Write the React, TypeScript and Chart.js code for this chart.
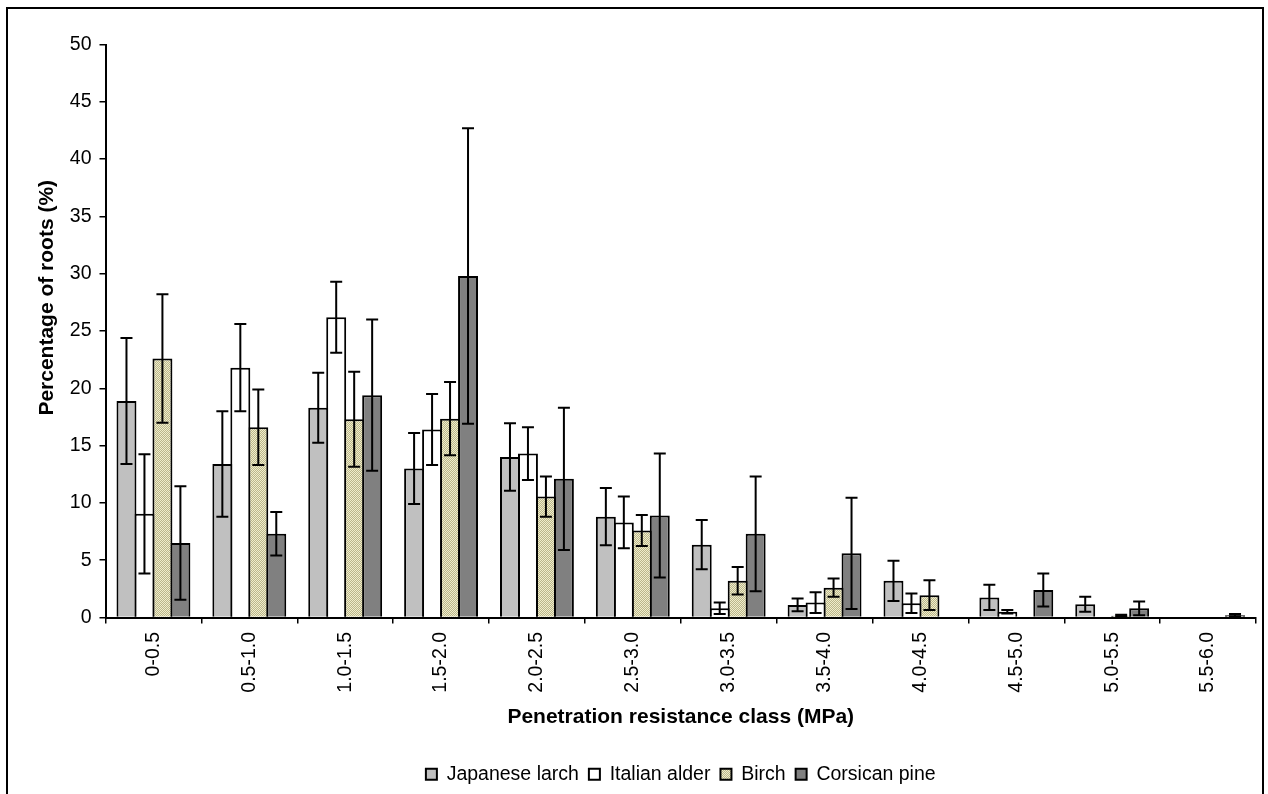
import React, { useEffect, useRef } from 'react';
import { Chart, registerables } from 'chart.js';

Chart.register(...registerables);

const categories = ['0-0.5', '0.5-1.0', '1.0-1.5', '1.5-2.0', '2.0-2.5', '2.5-3.0', '3.0-3.5', '3.5-4.0', '4.0-4.5', '4.5-5.0', '5.0-5.5', '5.5-6.0'];
const seriesNames = ['Japanese larch', 'Italian alder', 'Birch', 'Corsican pine'];

const larch = [18.9, 13.4, 18.3, 13.0, 14.0, 8.8, 6.35, 1.1, 3.2, 1.75, 1.15, 0];
const larchErr = [5.5, 4.6, 3.05, 3.1, 2.95, 2.5, 2.15, 0.55, 1.75, 1.1, 0.65, 0];
const alder = [9.05, 21.8, 26.2, 16.4, 14.3, 8.3, 0.8, 1.3, 1.25, 0.5, 0, 0];
const alderErr = [5.2, 3.8, 3.1, 3.1, 2.3, 2.25, 0.5, 0.9, 0.85, 0.15, 0, 0];
const birch = [22.6, 16.6, 17.3, 17.35, 10.55, 7.6, 3.2, 2.6, 1.95, 0, 0.15, 0];
const birchErr = [5.6, 3.3, 4.15, 3.2, 1.75, 1.35, 1.2, 0.8, 1.3, 0, 0.08, 0];
const pine = [6.5, 7.3, 19.4, 29.8, 12.1, 8.9, 7.3, 5.6, 0, 2.4, 0.8, 0.2];
const pineErr = [4.95, 1.9, 6.6, 12.9, 6.2, 5.4, 5.0, 4.85, 0, 1.45, 0.6, 0.1];

const yMin = 0;
const yMax = 50;
const yStep = 5;

const xTitle = 'Penetration resistance class (MPa)';
const yTitle = 'Percentage of roots (%)';

const FONT = '"Liberation Sans", Arial, sans-serif';

function makeBirchPattern(): CanvasPattern | string {
  const c = document.createElement('canvas');
  c.width = 2;
  c.height = 2;
  const g = c.getContext('2d');
  if (!g) return '#D6D2AA';
  g.fillStyle = '#F0EDCB';
  g.fillRect(0, 0, 2, 2);
  g.fillStyle = '#BAB68B';
  g.fillRect(0, 0, 1, 1);
  g.fillRect(1, 1, 1, 1);
  const p = g.createPattern(c, 'repeat');
  return p || '#D6D2AA';
}

const errorBarPlugin = {
  id: 'errorBars',
  afterDatasetsDraw(chart: any) {
    const ctx = chart.ctx;
    const yScale = chart.scales.y;
    ctx.save();
    ctx.strokeStyle = '#000';
    ctx.lineWidth = 2;
    chart.data.datasets.forEach((ds: any, di: number) => {
      const meta = chart.getDatasetMeta(di);
      meta.data.forEach((bar: any, i: number) => {
        const v = ds.data[i];
        const e = ds.errors[i];
        if (!e) return;
        const top = yScale.getPixelForValue(v + e);
        const bot = yScale.getPixelForValue(Math.max(v - e, 0));
        const x = bar.x;
        ctx.beginPath();
        ctx.moveTo(x, top);
        ctx.lineTo(x, bot);
        ctx.moveTo(x - 6, top);
        ctx.lineTo(x + 6, top);
        ctx.moveTo(x - 6, bot);
        ctx.lineTo(x + 6, bot);
        ctx.stroke();
      });
    });
    ctx.restore();
  },
};

const yTitlePlugin = {
  id: 'yTitleCustom',
  afterDraw(chart: any) {
    const ctx = chart.ctx;
    const ca = chart.chartArea;
    ctx.save();
    ctx.translate(39, ca.top + (ca.bottom - ca.top) * 0.442);
    ctx.rotate(-Math.PI / 2);
    ctx.font = `bold 21px ${FONT}`;
    ctx.fillStyle = '#000';
    ctx.textAlign = 'center';
    ctx.textBaseline = 'middle';
    ctx.fillText(yTitle, 0, 0);
    ctx.restore();
  },
};

const legendShiftPlugin = {
  id: 'legendShift',
  afterLayout(chart: any) {
    const lg = chart.legend;
    if (lg) {
      lg.left = chart.chartArea.left;
      lg.right = chart.chartArea.right;
    }
  },
};

export default function App() {
  const ref = useRef<HTMLCanvasElement>(null);

  useEffect(() => {
    if (!ref.current) return;
    const birchFill = makeBirchPattern();
    const common = {
      borderColor: '#000',
      borderWidth: 2,
      categoryPercentage: 0.75,
      barPercentage: 1.11,
      inflateAmount: 0,
    };
    const chart = new Chart(ref.current, {
      type: 'bar',
      data: {
        labels: categories,
        datasets: [
          { label: seriesNames[0], data: larch, errors: larchErr, backgroundColor: '#C0C0C0', ...common } as any,
          { label: seriesNames[1], data: alder, errors: alderErr, backgroundColor: '#FFFFFF', ...common } as any,
          { label: seriesNames[2], data: birch, errors: birchErr, backgroundColor: birchFill, ...common } as any,
          { label: seriesNames[3], data: pine, errors: pineErr, backgroundColor: '#808080', ...common } as any,
        ],
      },
      options: {
        animation: false,
        responsive: false,
        devicePixelRatio: 1,
        layout: { padding: { left: 0, right: 6, top: 35.5, bottom: 0 } },
        plugins: {
          tooltip: { enabled: false },
          legend: {
            position: 'bottom',
            labels: {
              boxWidth: 11,
              boxHeight: 11,
              padding: 10,
              color: '#000',
              font: { family: FONT, size: 19.5 },
            },
          },
        },
        scales: {
          x: {
            offset: true,
            grid: {
              display: true,
              offset: true,
              drawOnChartArea: false,
              drawTicks: true,
              tickLength: 6,
              color: '#000',
              lineWidth: 1.5,
            },
            border: { display: true, color: '#000', width: 2 },
            ticks: {
              autoSkip: false,
              minRotation: 90,
              maxRotation: 90,
              padding: 8.5,
              color: '#000',
              font: { family: FONT, size: 19.5 },
            },
            title: {
              display: true,
              text: xTitle,
              color: '#000',
              font: { family: FONT, size: 21, weight: 'bold' },
              padding: { top: 0, bottom: 25 },
            },
            afterFit: (s: any) => {
              s.height = 137;
            },
          },
          y: {
            min: yMin,
            max: yMax,
            grid: {
              display: true,
              drawOnChartArea: false,
              drawTicks: true,
              tickLength: 6,
              color: '#000',
              lineWidth: 1.5,
            },
            border: { display: true, color: '#000', width: 2 },
            ticks: {
              stepSize: yStep,
              padding: 8,
              color: '#000',
              font: { family: FONT, size: 19.5 },
            },
            afterFit: (s: any) => {
              s.width = 97.5;
            },
          },
        },
      } as any,
      plugins: [errorBarPlugin, yTitlePlugin, legendShiftPlugin],
    });
    return () => chart.destroy();
  }, []);

  return (
    <div
      style={{
        position: 'fixed',
        left: 6,
        top: 7,
        width: 1258,
        height: 800,
        border: '2px solid #000',
        boxSizing: 'border-box',
        background: '#fff',
      }}
    >
      <canvas ref={ref} width={1254} height={785} style={{ display: 'block', width: 1254, height: 785 }} />
    </div>
  );
}
